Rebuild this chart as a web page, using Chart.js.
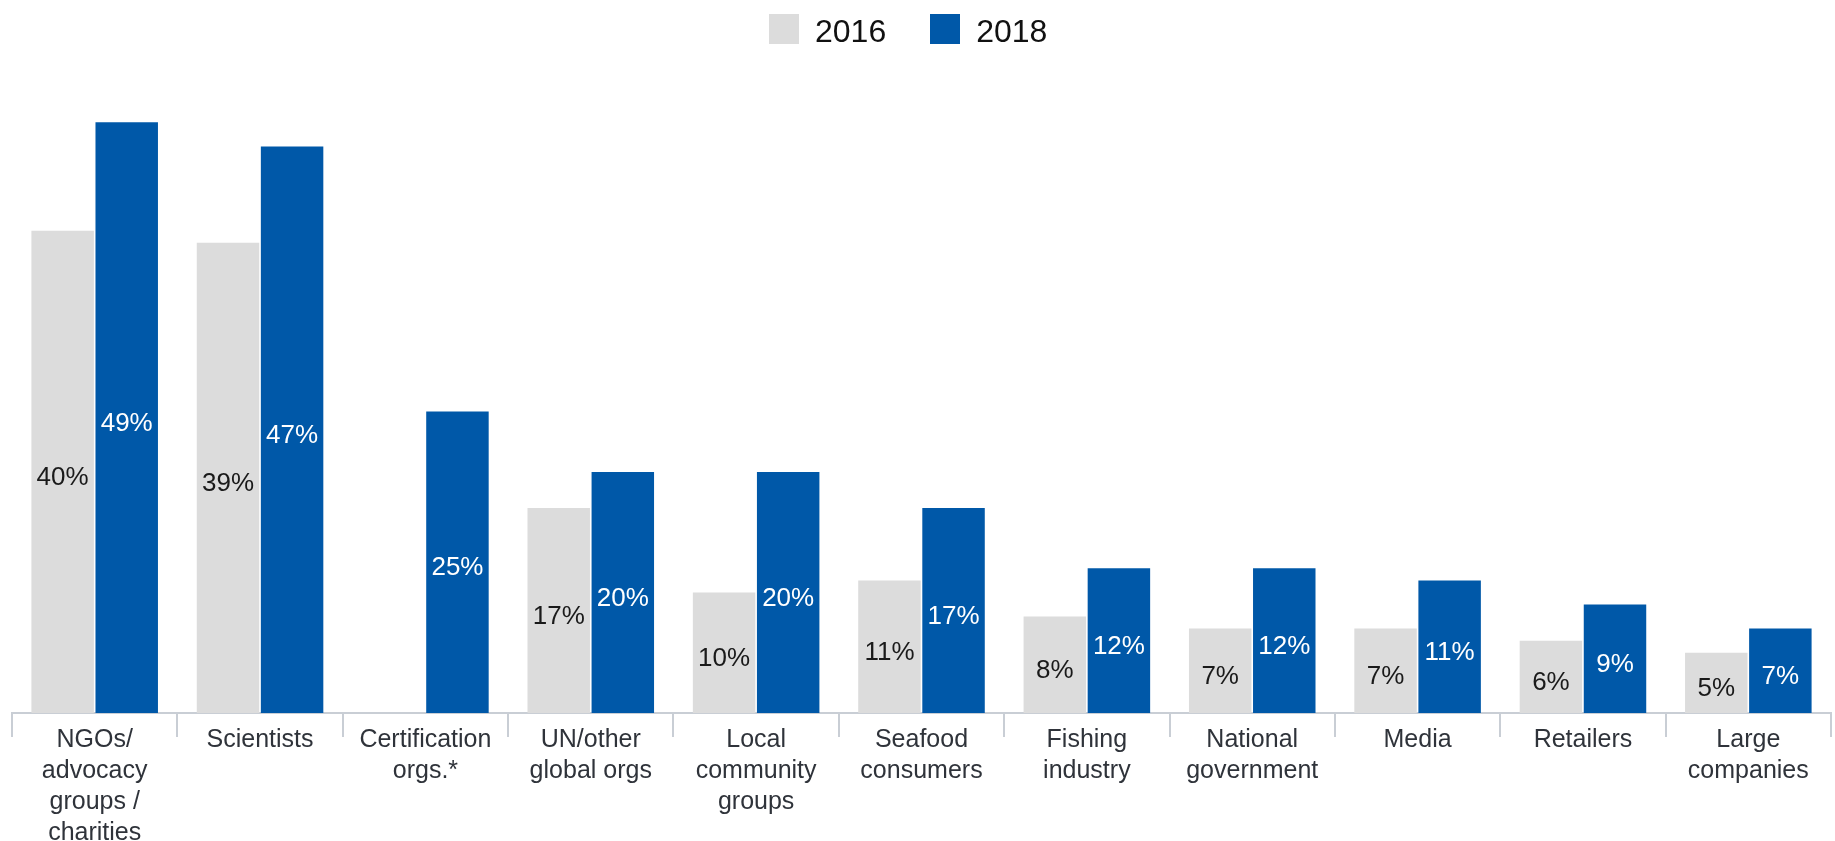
<!DOCTYPE html>
<html>
<head>
<meta charset="utf-8">
<title>Most trusted sources, 2016 and 2018</title>
<script src="https://cdn.jsdelivr.net/npm/chart.js@4.4.1/dist/chart.umd.min.js"></script>
<style>
    html, body { margin: 0; padding: 0; background: #fff; }
    #wrap { position: relative; width: 1835px; height: 841px; }
    #legend {
        position: absolute; left: 769px; top: 10px;
        display: flex; align-items: center;
        font-family: "Liberation Sans", Arial, sans-serif;
        font-size: 32px; color: #111;
    }
    .item { display: flex; align-items: center; margin-right: 44px; }
    .item:last-child { margin-right: 0; }
    .swatch { width: 30px; height: 30px; margin-right: 16px; }
    .item span { position: relative; top: 3px; }
</style>
</head>
<body>
<div id="wrap">
    <canvas id="trustChart" width="1835" height="841"></canvas>
    <div id="legend"></div>
</div>
<script>
const categories = [
    ["NGOs/", "advocacy", "groups /", "charities"],
    ["Scientists"],
    ["Certification", "orgs.*"],
    ["UN/other", "global orgs"],
    ["Local", "community", "groups"],
    ["Seafood", "consumers"],
    ["Fishing", "industry"],
    ["National", "government"],
    ["Media"],
    ["Retailers"],
    ["Large", "companies"]
];
const seriesNames = ["2016", "2018"];
const values2016 = [40, 39, null, 17, 10, 11, 8, 7, 7, 6, 5];
const values2018 = [49, 47, 25, 20, 20, 17, 12, 12, 11, 9, 7];

const barColors = ["#dcdcdc", "#0058a8"];
const labelColors = ["#1a1a1a", "#ffffff"];
const fontFamily = '"Liberation Sans", Arial, sans-serif';

// percentage printed in the middle of every bar
const valueLabels = {
    id: 'valueLabels',
    afterDatasetsDraw(chart) {
        let ctx = chart.ctx;
        ctx.save();
        ctx.font = '26px ' + fontFamily;
        ctx.textAlign = 'center';
        ctx.textBaseline = 'middle';
        chart.data.datasets.forEach((ds, i) => {
            chart.getDatasetMeta(i).data.forEach((bar, j) => {
                let v = ds.data[j];
                if (v === null || v === undefined) return;
                ctx.fillStyle = labelColors[i];
                ctx.fillText(v + '%', bar.x, (bar.y + bar.base) / 2 + 6);
            });
        });
        ctx.restore();
    }
};

const ctx = document.getElementById('trustChart').getContext('2d');
const trustChart = new Chart(ctx, {
    type: 'bar',
    data: {
        labels: categories,
        datasets: [
            { label: seriesNames[0], data: values2016, backgroundColor: barColors[0] },
            { label: seriesNames[1], data: values2018, backgroundColor: barColors[1] }
        ]
    },
    options: {
        responsive: false,
        animation: false,
        layout: { padding: { left: 12, right: 4, top: 62, bottom: 0 } },
        datasets: {
            bar: { categoryPercentage: 0.775, barPercentage: 0.975 }
        },
        plugins: {
            legend: { display: false },
            tooltip: { enabled: false }
        },
        scales: {
            x: {
                // room for the four-line label under the first group
                afterFit(scale) { scale.height = 128; },
                grid: {
                    offset: true,
                    drawOnChartArea: false,
                    drawTicks: true,
                    tickLength: 24,
                    color: '#c9ced5',
                    lineWidth: 2
                },
                border: { display: true, color: '#c9ced5', width: 2 },
                ticks: {
                    autoSkip: false,
                    maxRotation: 0,
                    minRotation: 0,
                    padding: -13,
                    color: '#2f333a',
                    font: { family: fontFamily, size: 25, lineHeight: 1.25 }
                }
            },
            y: {
                display: false,
                min: 0,
                max: 54
            }
        }
    },
    plugins: [valueLabels]
});

// legend row above the plot
let legend = document.getElementById('legend');
trustChart.data.datasets.forEach(ds => {
    let item = document.createElement('div');
    item.className = 'item';
    let box = document.createElement('div');
    box.className = 'swatch';
    box.style.background = ds.backgroundColor;
    let text = document.createElement('span');
    text.textContent = ds.label;
    item.appendChild(box);
    item.appendChild(text);
    legend.appendChild(item);
});
</script>
</body>
</html>
